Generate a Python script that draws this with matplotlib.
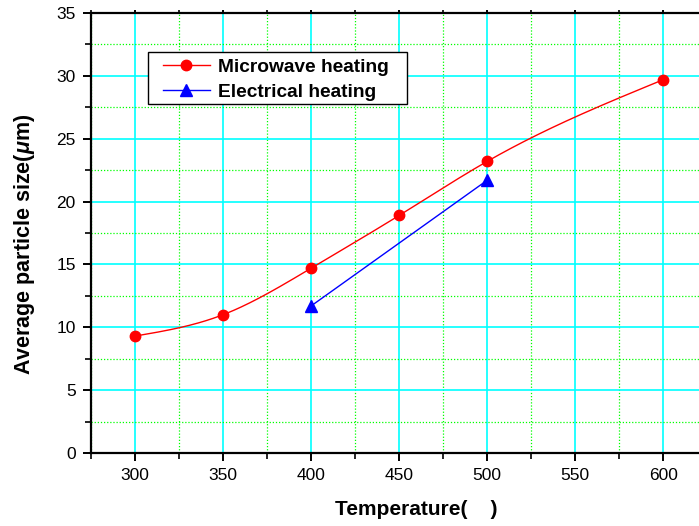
import numpy as np
import matplotlib
matplotlib.use("Agg")
import matplotlib.pyplot as plt
from matplotlib.ticker import MultipleLocator
from matplotlib.lines import Line2D
from matplotlib.patches import Rectangle

plt.rcParams['font.family'] = ['Liberation Sans', 'DejaVu Sans']
plt.rcParams['mathtext.fontset'] = 'custom'
plt.rcParams['mathtext.it'] = 'Liberation Sans:italic:bold'
plt.rcParams['mathtext.rm'] = 'Liberation Sans:bold'

mw_temp = [300, 350, 400, 450, 500, 600]
mw_size = [9.3, 11.0, 14.7, 18.9, 23.2, 29.7]
el_temp = [400, 500]
el_size = [11.7, 21.7]
mw_label = "Microwave heating"
el_label = "Electrical heating"
x_label = "Temperature(    )"
y_label = r"Average particle size($\mu$m)"


def natural_spline(x, y, n=300):
    x = np.asarray(x, float)
    y = np.asarray(y, float)
    k = len(x)
    h = np.diff(x)
    A = np.zeros((k, k))
    b = np.zeros(k)
    A[0, 0] = 1
    A[-1, -1] = 1
    for i in range(1, k - 1):
        A[i, i - 1] = h[i - 1]
        A[i, i] = 2 * (h[i - 1] + h[i])
        A[i, i + 1] = h[i]
        b[i] = 3 * ((y[i + 1] - y[i]) / h[i] - (y[i] - y[i - 1]) / h[i - 1])
    c = np.linalg.solve(A, b)
    xs = np.linspace(x[0], x[-1], n)
    ys = np.empty_like(xs)
    for j, xv in enumerate(xs):
        i = min(np.searchsorted(x, xv, side='right') - 1, k - 2)
        dx = xv - x[i]
        bi = (y[i + 1] - y[i]) / h[i] - h[i] * (2 * c[i] + c[i + 1]) / 3
        di = (c[i + 1] - c[i]) / (3 * h[i])
        ys[j] = y[i] + bi * dx + c[i] * dx ** 2 + di * dx ** 3
    return xs, ys


W, H = 699, 526
AX_L, AX_B, AX_W, AX_H = 91, 73, 616.4, 440
fig = plt.figure(figsize=(W / 100, H / 100), dpi=100)
ax = fig.add_axes([AX_L / W, AX_B / H, AX_W / W, AX_H / H])


def ax_x(px):
    return (px - AX_L) / AX_W


def ax_y(py):
    return (H - AX_B - py) / AX_H


ax.set_xlim(275, 625)
ax.set_ylim(0, 35)
ax.xaxis.set_major_locator(MultipleLocator(50))
ax.xaxis.set_minor_locator(MultipleLocator(25))
ax.yaxis.set_major_locator(MultipleLocator(5))
ax.yaxis.set_minor_locator(MultipleLocator(2.5))

ax.grid(which='major', color='#00ffff', linewidth=1.2, linestyle='-')
ax.grid(which='minor', color='#00ff00', linewidth=0.9, linestyle=(0, (1, 1.5)))
ax.set_axisbelow(True)

sx, sy = natural_spline(mw_temp, mw_size)
ax.plot(sx, sy, color='red', linewidth=1.0, zorder=3)
ax.plot(mw_temp, mw_size, linestyle='none', marker='o', color='red', markersize=7.5, zorder=4)
ax.plot(el_temp, el_size, color='blue', linewidth=1.0, marker='^', markersize=8.5, zorder=4)

# legend frame
ax.add_patch(Rectangle((ax_x(148), ax_y(104)), ax_x(407) - ax_x(148), ax_y(52) - ax_y(104),
                       transform=ax.transAxes, facecolor='white', edgecolor='black',
                       linewidth=1.0, zorder=5))
h1 = Line2D([], [], color='red', linewidth=1.0, marker='o', markersize=7.5)
h2 = Line2D([], [], color='blue', linewidth=1.0, marker='^', markersize=8.5)
leg = ax.legend([h1, h2], [mw_label, el_label], loc='upper left',
                bbox_to_anchor=(ax_x(163), ax_y(58.5)),
                frameon=False,
                prop={'weight': 'bold', 'size': 13.8}, handlelength=2.45,
                handletextpad=0.42, borderpad=0.0, labelspacing=0.38,
                borderaxespad=0)
leg.set_zorder(6)

for s in ['left', 'bottom', 'top', 'right']:
    ax.spines[s].set_linewidth(1.6)
ax.tick_params(axis='both', which='major', direction='out', length=6, width=1.4,
               labelsize=12.5, pad=5, colors='black')
ax.tick_params(axis='both', which='minor', direction='out', length=4, width=1.2)
ax.xaxis.set_tick_params(which='both', top=True)
for t in ax.xaxis.get_major_ticks() + ax.xaxis.get_minor_ticks():
    t.tick2line.set_markersize(2.5)

ax.set_xlabel(x_label, fontsize=15, fontweight='bold', labelpad=12)
ax.xaxis.label.set_x(ax_x(416))
ax.set_ylabel(y_label, fontsize=15.5, fontweight='bold', labelpad=14)
ax.yaxis.label.set_y(ax_y(244))

fig.savefig('out.png', dpi=100)
